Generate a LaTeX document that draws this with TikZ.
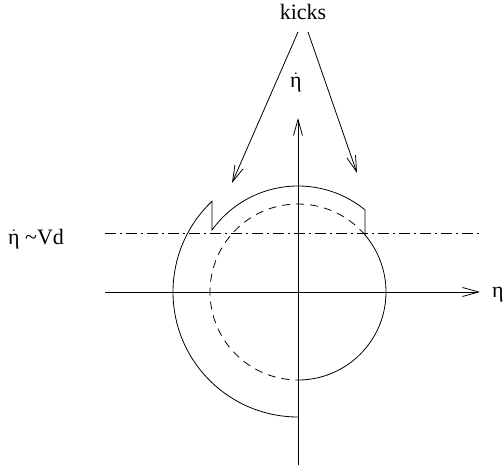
\documentclass[tikz,border=0pt]{standalone}
\usepackage{fontspec}
\setmainfont{Liberation Serif}
\usetikzlibrary{arrows.meta}
\tikzset{
  ln/.style={line width=0.8pt},
  axisarrow/.style={ln,-{Straight Barb[length=16pt,width=9pt,line width=0.8pt]}},
  lbl/.style={inner sep=0pt,font=\fontsize{22}{26}\selectfont},
}
\newcommand\etadotlbl{$\dot{\hbox{η}}$}
\begin{document}
\begin{tikzpicture}[x=1pt,y=1pt]
\useasboundingbox (-298,-174) rectangle (206,292);
% axes
\coordinate (hx0) at (-193,0);
\coordinate (hx1) at (182,0);
\coordinate (vy0) at (0,-173);
\coordinate (vy1) at (0,174);
\draw[axisarrow] (hx0) -- (hx1);
\draw[axisarrow] (vy0) -- (vy1);
% dash-dot line
\coordinate (d0) at (-193,59);
\coordinate (d1) at (182,59);
\draw[ln,dash pattern=on 11pt off 4pt on 2pt off 4pt] (d0) -- (d1);
% trajectory
\draw[ln] (-90:88) arc[start angle=-90,end angle=40.4,radius=88]
  -- (50.8:106) arc[start angle=50.8,end angle=144.2,radius=106]
  -- (133.47:125) arc[start angle=133.47,end angle=270,radius=125];
\draw[ln,dash pattern=on 8pt off 6pt] (40.4:88) arc[start angle=40.4,end angle=270,radius=88];
% labels
\node[lbl,anchor=base] (kicks) at (5,272) {kicks};
\node[lbl,anchor=base] (etav) at (-2,204) {\etadotlbl};
\node[lbl,anchor=base west] (etah) at (194,-6) {η};
\node[lbl,anchor=base west] (vd) at (-290,47) {\etadotlbl\ \char`\~Vd};
% kick arrows
\coordinate (k1) at (0,260);
\coordinate (k2) at (10,260);
\coordinate (t1) at (-66,109);
\coordinate (t2) at (59,119);
\draw[axisarrow] (k1) -- (t1);
\draw[axisarrow] (k2) -- (t2);
\end{tikzpicture}
\end{document}
